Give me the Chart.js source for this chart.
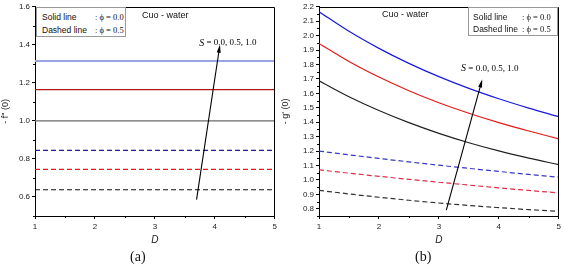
<!DOCTYPE html>
<html>
<head>
<meta charset="utf-8">
<script src="https://cdn.jsdelivr.net/npm/chart.js@4.4.0/dist/chart.umd.min.js"></script>
<style>
  body { margin:0; background:#fff; width:564px; height:266px; position:relative; overflow:hidden;
         font-family:"Liberation Sans", Arial, sans-serif; color:#111; }
  canvas { position:absolute; top:0; }
  #chartA { left:0; }
  #chartB { left:280px; }
  .note { position:absolute; font-size:9px; line-height:10px; white-space:nowrap; }
  .legend { position:absolute; border:1px solid #999; background:#fff; box-sizing:border-box; }
  .legend div { position:absolute; font-size:8.5px; line-height:10px; white-space:nowrap; }
  .legend .phi { font-family:"Liberation Serif", serif; font-size:8.5px; }
  .cap { position:absolute; font-family:"Liberation Serif", serif; font-size:14px; line-height:14px; }
</style>
</head>
<body>
<canvas id="chartA" width="280" height="266"></canvas>
<canvas id="chartB" width="284" height="266"></canvas>

<div class="legend" style="left:36px;top:7px;width:90px;height:30px;">
  <div style="left:5px;top:4px;">Solid line</div><div class="phi" style="left:58px;top:4px;">: ϕ = 0.0</div>
  <div style="left:5px;top:17px;">Dashed line</div><div class="phi" style="left:58px;top:17px;">: ϕ = 0.5</div>
</div>
<div class="legend" style="left:468px;top:7px;width:90px;height:29px;">
  <div style="left:4px;top:4px;">Solid line</div><div class="phi" style="left:53px;top:4px;">: ϕ = 0.0</div>
  <div style="left:4px;top:16px;">Dashed line</div><div class="phi" style="left:53px;top:16px;">: ϕ = 0.5</div>
</div>
<div class="note" style="left:142px;top:10px;">Cuo - water</div>
<div class="note" style="left:382px;top:9px;">Cuo - water</div>
<div class="cap" style="left:130px;top:250px;">(a)</div>
<div class="cap" style="left:415px;top:250px;">(b)</div>

<script>
// ---- data ----
const dValues = [1, 1.5, 2, 2.5, 3, 3.5, 4, 4.5, 5];

// panel (a): -f''(0), flat in D
const fPhi0S0  = [1.00, 1.00, 1.00, 1.00, 1.00, 1.00, 1.00, 1.00, 1.00];
const fPhi0S05 = [1.165, 1.165, 1.165, 1.165, 1.165, 1.165, 1.165, 1.165, 1.165];
const fPhi0S1  = [1.315, 1.315, 1.315, 1.315, 1.315, 1.315, 1.315, 1.315, 1.315];
const fPhi5S0  = [0.638, 0.638, 0.638, 0.638, 0.638, 0.638, 0.638, 0.638, 0.638];
const fPhi5S05 = [0.745, 0.745, 0.745, 0.745, 0.745, 0.745, 0.745, 0.745, 0.745];
const fPhi5S1  = [0.845, 0.845, 0.845, 0.845, 0.845, 0.845, 0.845, 0.845, 0.845];

// panel (b): -g'(0)
const gPhi0S0  = [1.687, 1.577, 1.481, 1.397, 1.323, 1.258, 1.201, 1.151, 1.106];
const gPhi0S05 = [1.946, 1.821, 1.713, 1.618, 1.535, 1.462, 1.397, 1.339, 1.285];
const gPhi0S1  = [2.166, 2.03, 1.912, 1.808, 1.716, 1.635, 1.563, 1.498, 1.438];
const gPhi5S0  = [0.928, 0.903, 0.88, 0.859, 0.84, 0.823, 0.808, 0.794, 0.782];
const gPhi5S05 = [1.07, 1.047, 1.025, 1.004, 0.984, 0.964, 0.945, 0.927, 0.91];
const gPhi5S1  = [1.20, 1.174, 1.149, 1.125, 1.102, 1.08, 1.059, 1.038, 1.018];

const xTicks  = [1, 2, 3, 4, 5];
const yTicksA = [0.6, 0.8, 1.0, 1.2, 1.4, 1.6];
const yTicksB = [0.8, 0.9, 1.0, 1.1, 1.2, 1.3, 1.4, 1.5, 1.6, 1.7, 1.8, 1.9, 2.0, 2.1, 2.2];

// S arrow (data coords: tail, head)
const arrowA = [[3.695, 0.586], [4.08, 1.39]];
const arrowB = [[3.124, 0.79], [3.714, 1.683]];
const sLabel = ['S', ' = 0.0, 0.5, 1.0'];
const sLabelA = [3.74, 1.41];
const sLabelB = [3.37, 1.77];

// full box + minor ticks (half step between majors)
const frameMinor = {
  id: 'frameMinor',
  afterDraw(chart) {
    const {ctx, chartArea: a, scales} = chart;
    ctx.save();
    ctx.strokeStyle = '#000';
    ctx.lineWidth = 1;
    ctx.beginPath();
    ctx.moveTo(Math.round(a.left) + 0.5, Math.round(a.top) + 0.5);
    ctx.lineTo(Math.round(a.right) - 0.5, Math.round(a.top) + 0.5);
    ctx.lineTo(Math.round(a.right) - 0.5, Math.round(a.bottom) + 0.5);
    ctx.stroke();
    ctx.beginPath();
    ['x', 'y'].forEach(id => {
      const s = scales[id];
      const t = s.ticks.map(k => k.value);
      const half = (t[1] - t[0]) / 2;
      for (let i = 0; i < t.length + 1; i++) {
        const v = t[0] + half * (2 * i - 1);
        if (v < s.min - 1e-9 || v > s.max + 1e-9) continue;
        const p = Math.round(s.getPixelForValue(v)) + 0.5;
        if (id === 'x') { ctx.moveTo(p, a.bottom); ctx.lineTo(p, a.bottom + 2); }
        else { ctx.moveTo(a.left, p); ctx.lineTo(a.left - 2, p); }
      }
    });
    ctx.stroke();
    ctx.restore();
  }
};

const sArrow = {
  id: 'sArrow',
  afterDatasetsDraw(chart, args, opts) {
    const {ctx, scales: {x, y}} = chart;
    const [t, h] = opts.points;
    const x0 = x.getPixelForValue(t[0]), y0 = y.getPixelForValue(t[1]);
    const x1 = x.getPixelForValue(h[0]), y1 = y.getPixelForValue(h[1]);
    const ang = Math.atan2(y1 - y0, x1 - x0);
    ctx.save();
    ctx.strokeStyle = '#000'; ctx.fillStyle = '#000'; ctx.lineWidth = 1.1;
    ctx.beginPath(); ctx.moveTo(x0, y0); ctx.lineTo(x1, y1); ctx.stroke();
    ctx.beginPath();
    ctx.moveTo(x1 + 2 * Math.cos(ang), y1 + 2 * Math.sin(ang));
    ctx.lineTo(x1 - 6 * Math.cos(ang) + 2 * Math.sin(ang), y1 - 6 * Math.sin(ang) - 2 * Math.cos(ang));
    ctx.lineTo(x1 - 6 * Math.cos(ang) - 2 * Math.sin(ang), y1 - 6 * Math.sin(ang) + 2 * Math.cos(ang));
    ctx.closePath(); ctx.fill();
    const lx = x.getPixelForValue(opts.at[0]), ly = y.getPixelForValue(opts.at[1]);
    ctx.textBaseline = 'middle';
    ctx.font = 'italic 10px "Liberation Serif", serif';
    ctx.fillText(sLabel[0], lx, ly);
    const w = ctx.measureText(sLabel[0]).width;
    ctx.font = '9px "Liberation Serif", serif';
    ctx.fillText(sLabel[1], lx + w, ly);
    ctx.restore();
  }
};

function line(data, color, dashed, width) {
  return {
    data: dValues.map((d, i) => ({x: d, y: data[i]})),
    borderColor: color, borderWidth: width || 1.2,
    borderDash: dashed ? [5, 3] : [],
    pointRadius: 0, fill: false, cubicInterpolationMode: 'monotone'
  };
}

function makeChart(id, datasets, cfg) {
  return new Chart(document.getElementById(id), {
    type: 'line',
    data: {datasets},
    options: {
      responsive: false, animation: false,
      layout: {padding: {top: 3, right: cfg.padRight, left: 0, bottom: 0}},
      plugins: {legend: {display: false}, tooltip: {enabled: false},
                sArrow: {points: cfg.arrow, at: cfg.labelAt}},
      scales: {
        x: {
          type: 'linear', min: 1, max: 5,
          afterFit: s => { s.height = 50; },
          afterBuildTicks: s => { s.ticks = xTicks.map(v => ({value: v})); },
          ticks: {color: '#222', font: {size: 8, family: '"Liberation Sans", Arial'}, padding: 3,
                  callback: v => String(v), maxRotation: 0},
          grid: {drawOnChartArea: false, tickLength: 3, color: '#000'},
          border: {color: '#000', width: 1},
          title: {display: true, text: 'D', color: '#222',
                  font: {size: 10, style: 'italic', family: '"Liberation Sans", Arial'},
                  padding: {top: 0, bottom: 20}}
        },
        y: {
          type: 'linear', min: cfg.yMin, max: cfg.yMax,
          afterFit: s => { s.width = cfg.yWidth; },
          afterBuildTicks: s => { s.ticks = cfg.yTicks.map(v => ({value: v})); },
          ticks: {color: '#222', font: {size: 8, family: '"Liberation Sans", Arial'}, padding: 2,
                  callback: v => v.toFixed(1)},
          grid: {drawOnChartArea: false, tickLength: 3, color: '#000'},
          border: {color: '#000', width: 1},
          title: {display: true, text: cfg.yTitle, color: '#222',
                  font: {size: 9, family: '"Liberation Sans", Arial'}, padding: {top: 0, bottom: 0}}
        }
      }
    },
    plugins: [frameMinor, sArrow]
  });
}

makeChart('chartA', [
  line(fPhi0S1, '#98a4e4', false, 2),
  line(fPhi0S05, '#b01818', false, 1.3),
  line(fPhi0S0, '#6a6a6a', false, 1.3),
  line(fPhi5S1, '#1c2290', true),
  line(fPhi5S05, '#d82020', true),
  line(fPhi5S0, '#111', true)
], {yMin: 0.5, yMax: 1.6, yTicks: yTicksA, yWidth: 35, padRight: 4,
    yTitle: "- f'' (0)", arrow: arrowA, labelAt: sLabelA});

makeChart('chartB', [
  line(gPhi0S1, '#1a1ae0', false),
  line(gPhi0S05, '#e81818', false),
  line(gPhi0S0, '#222', false),
  line(gPhi5S1, '#3838c8', true),
  line(gPhi5S05, '#e03048', true),
  line(gPhi5S0, '#333', true)
], {yMin: 0.75, yMax: 2.2, yTicks: yTicksB, yWidth: 39, padRight: 3,
    yTitle: "- g' (0)", arrow: arrowB, labelAt: sLabelB});
</script>
</body>
</html>
